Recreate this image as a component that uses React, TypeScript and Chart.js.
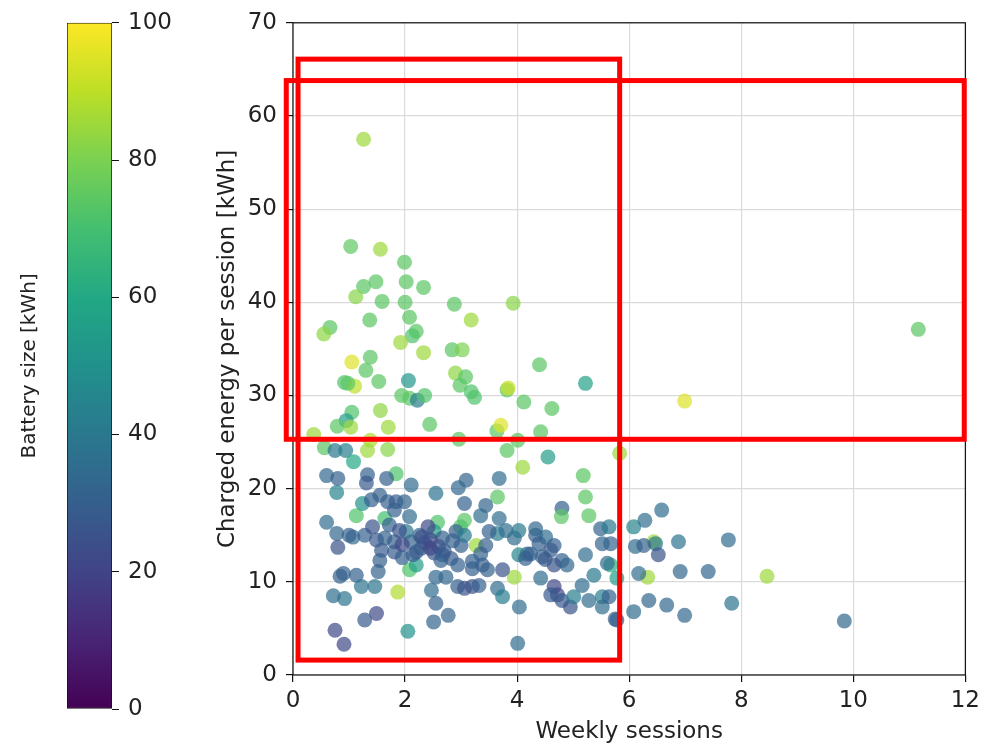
import React, { useEffect, useRef } from "react";
import { Chart, registerables } from "chart.js";
Chart.register(...registerables);

// ---- data ----
const sessionsPerWeek = [
  1.26, 1.03, 1.56, 1.99, 1.48, 1.26, 2.33, 2.02, 1.12, 1.59, 2.0, 2.88, 3.93, 1.37, 2.08, 3.18, 0.66, 0.55, 2.2, 2.13,
  1.92, 2.33, 2.84, 3.02, 1.05, 1.38, 1.3, 4.4, 2.06, 5.22, 1.53, 0.92, 1.1, 0.98, 2.9, 3.08, 2.98, 3.18, 3.24, 3.82,
  3.84, 1.94, 2.08, 2.22, 2.35, 4.12, 4.62, 1.05, 0.95, 0.79, 1.03, 1.56, 1.7, 2.44, 3.64, 3.71, 4.42, 0.37, 1.38, 2.96,
  4.01, 0.56, 0.75, 0.94, 1.33, 1.69, 3.82, 4.55, 5.83, 11.16, 6.99, 8.46, 6.33, 1.08, 4.1, 5.18, 5.22, 5.28, 4.8, 4.79,
  3.65, 3.06, 3.27, 1.84, 1.13, 1.64, 2.58, 2.52, 2.99, 2.08, 2.2, 1.87, 2.05, 1.24, 0.78, 3.95, 5.67, 5.78, 6.44, 6.08,
  6.47,
  0.6, 0.8, 1.33, 1.31, 1.67, 2.11, 2.55, 3.09, 3.68, 1.4, 1.55, 1.69, 1.84, 1.99, 1.81, 1.72, 2.08, 0.6, 0.78, 0.8,
  1.07, 1.28, 1.42, 1.49, 1.64, 1.81, 1.58, 1.81, 2.02, 2.11, 2.26, 2.41, 2.67, 2.91, 2.14, 2.29, 2.52, 2.67, 2.82, 3.06,
  3.44, 3.35, 3.68, 3.65, 3.95, 4.33, 4.51, 4.39, 4.66, 4.6, 4.18, 4.03, 4.8, 5.22, 5.49, 5.64, 5.52, 5.67, 3.44, 3.0,
  3.35, 3.06, 0.9, 1.13, 0.84, 1.22, 1.46, 0.72, 0.92, 1.52, 1.55, 1.49, 1.28, 0.75, 0.91, 2.47, 2.55, 2.51, 2.77, 2.55,
  2.73, 2.94, 2.64, 2.94, 3.38, 3.47, 3.74, 3.65, 3.74, 4.04, 4.01, 3.06, 3.2, 4.15, 4.45, 4.66, 4.89, 4.42, 4.66, 4.72,
  4.6, 4.8, 4.95, 5.01, 5.16, 5.28, 5.52, 5.52, 5.64, 5.37, 5.61, 5.75, 6.58, 6.28, 6.11, 6.26, 6.52, 6.88, 7.77, 6.17,
  6.91, 7.41, 6.35, 6.08, 6.67, 6.99, 7.83, 5.78, 9.84, 3.32, 3.2, 4.33, 4.24, 1.9, 1.95, 2.35, 2.45, 2.6, 2.2, 4.03,
  3.8, 2.95, 2.3, 2.45, 2.7, 1.95, 2.85, 3.5, 3.2, 4.5, 1.0,
];

const energyPerSession = [
  57.5, 46.0, 45.7, 44.3, 42.2, 41.7, 41.6, 42.2, 40.6, 40.1, 40.0, 39.8, 39.9, 38.1, 38.4, 38.1, 37.3, 36.6, 36.9, 36.4,
  35.7, 34.6, 34.9, 34.9, 33.6, 34.1, 32.7, 33.3, 31.6, 31.3, 31.5, 31.4, 31.0, 31.3, 32.4, 32.0, 31.1, 30.4, 29.8, 30.6,
  30.8, 30.0, 29.7, 29.5, 30.0, 29.3, 28.6, 28.2, 27.3, 26.7, 26.6, 28.4, 26.6, 26.9, 26.2, 26.8, 26.1, 25.8, 25.2, 25.3,
  25.2, 24.4, 24.1, 24.1, 24.1, 24.2, 24.1, 23.4, 23.8, 37.1, 29.4, 10.6, 10.5, 22.9, 22.3, 21.4, 19.1, 17.1, 17.9, 17.0,
  19.1, 16.6, 13.9, 21.6, 17.1, 16.8, 16.4, 15.4, 15.9, 11.3, 11.8, 8.9, 4.7, 18.4, 19.6, 10.5, 11.8, 10.4, 14.3, 15.9,
  14.1,
  21.4, 21.1, 21.5, 20.6, 21.1, 20.4, 19.5, 20.9, 21.1, 18.8, 19.3, 18.6, 18.6, 18.6, 17.7, 16.1, 17.0, 16.4, 15.2, 13.7,
  14.8, 15.0, 15.9, 14.5, 14.7, 14.3, 13.4, 13.2, 15.4, 14.3, 15.0, 15.9, 14.7, 15.4, 12.9, 13.6, 13.1, 12.9, 12.5, 18.4,
  18.2, 17.1, 16.8, 15.2, 14.7, 15.0, 14.8, 14.1, 13.9, 13.4, 13.0, 12.9, 12.3, 12.9, 15.7, 15.9, 14.1, 14.1, 13.9, 13.9,
  13.0, 15.0, 10.9, 10.7, 10.6, 9.5, 9.5, 8.5, 8.2, 11.1, 12.3, 6.6, 5.9, 4.8, 3.3, 9.1, 7.7, 5.7, 6.4, 10.5,
  10.5, 9.5, 12.3, 11.8, 11.8, 11.3, 11.3, 9.3, 8.4, 7.3, 3.4, 9.3, 9.5, 12.5, 12.7, 11.8, 11.8, 10.4, 9.5, 8.6,
  8.6, 8.0, 7.3, 8.4, 9.6, 8.0, 8.4, 7.3, 8.4, 10.7, 12.0, 6.0, 17.7, 16.6, 13.8, 13.9, 12.9, 14.3, 14.5, 10.9,
  11.1, 11.1, 8.0, 6.8, 7.5, 6.4, 7.7, 5.9, 5.8, 9.6, 11.4, 15.7, 13.0, 15.5, 14.0, 14.2, 14.5, 13.8, 13.2, 15.5,
  15.5, 20.1, 14.8, 13.6, 13.3, 12.6, 14.4, 15.4, 12.2, 12.4, 15.0,
];

const batterySizeKWh = [
  85, 75, 85, 74, 74, 74, 74, 74, 82, 74, 74, 74, 82, 74, 74, 85, 74, 83, 74, 72,
  85, 85, 74, 80, 95, 74, 74, 74, 52, 56, 74, 72, 90, 74, 83, 74, 74, 72, 72, 74,
  92, 74, 74, 42, 72, 74, 74, 72, 55, 74, 85, 83, 85, 74, 74, 95, 74, 85, 88, 74,
  74, 74, 40, 42, 85, 82, 74, 55, 85, 74, 95, 85, 85, 60, 85, 74, 74, 74, 30, 74,
  74, 74, 85, 72, 72, 70, 72, 55, 72, 72, 55, 88, 50, 50, 45, 85, 62, 55, 85, 45,
  40,
  33, 30, 30, 28, 30, 35, 38, 32, 35, 30, 30, 30, 28, 32, 30, 30, 35, 35, 33, 25,
  35, 30, 25, 28, 30, 30, 28, 28, 40, 32, 30, 22, 30, 30, 30, 30, 25, 30, 28, 30,
  32, 35, 35, 42, 35, 30, 35, 30, 30, 28, 35, 45, 30, 35, 32, 40, 32, 32, 30, 30,
  30, 40, 30, 30, 30, 38, 38, 35, 38, 32, 30, 22, 28, 22, 22, 35, 30, 32, 32, 33,
  33, 30, 30, 30, 30, 30, 25, 35, 42, 35, 35, 25, 25, 30, 30, 25, 33, 35, 22, 22,
  28, 28, 25, 42, 35, 35, 42, 35, 30, 40, 35, 30, 35, 35, 35, 30, 25, 38, 35, 35,
  33, 33, 33, 35, 33, 33, 38, 30, 33, 30, 30, 33, 30, 25, 22, 25, 20, 25, 28, 40,
  35, 33, 25, 22, 28, 30, 30, 30, 30, 28, 30,
];

const colorbarTicks = [0, 20, 40, 60, 80, 100];

// highlight regions in data units: [xMin, xMax, yMin, yMax]
const highlightRegions = [
  [0.09, 5.83, 1.6, 66.1],
  [-0.12, 11.98, 25.3, 63.8],
];

// ---- styling helpers ----
const VIRIDIS = [
  "#440154", "#482475", "#414487", "#355f8d", "#2a788e", "#21918c",
  "#22a884", "#44bf70", "#7ad151", "#bddf26", "#fde725",
];
function hexToRgb(h: string) {
  return [parseInt(h.slice(1, 3), 16), parseInt(h.slice(3, 5), 16), parseInt(h.slice(5, 7), 16)];
}
function viridis(t: number, a = 1) {
  const tt = Math.max(0, Math.min(1, t));
  const p = tt * 10;
  const i = Math.min(9, Math.floor(p));
  const f = p - i;
  const c0 = hexToRgb(VIRIDIS[i]);
  const c1 = hexToRgb(VIRIDIS[i + 1]);
  const c = c0.map((v, k) => Math.round(v + (c1[k] - v) * f));
  return `rgba(${c[0]},${c[1]},${c[2]},${a})`;
}

const FONT = { family: "'DejaVu Sans', sans-serif", size: 23 };
const CB_TITLE_FONT = { family: "'DejaVu Sans', sans-serif", size: 20 };
const TEXT = "#222";

const boxPlugin = {
  id: "boxAndRegions",
  afterDraw(chart: any) {
    const { ctx, chartArea, scales } = chart;
    ctx.save();
    ctx.strokeStyle = "#111";
    ctx.lineWidth = 1.2;
    ctx.strokeRect(chartArea.left, chartArea.top, chartArea.right - chartArea.left, chartArea.bottom - chartArea.top);
    ctx.strokeStyle = "#ff0000";
    ctx.lineWidth = 5;
    for (const [x0, x1, y0, y1] of highlightRegions) {
      const px0 = scales.x.getPixelForValue(x0);
      const px1 = scales.x.getPixelForValue(x1);
      const py0 = scales.y.getPixelForValue(y0);
      const py1 = scales.y.getPixelForValue(y1);
      ctx.strokeRect(px0, py1, px1 - px0, py0 - py1);
    }
    ctx.restore();
  },
};

export default function App() {
  const mainRef = useRef<HTMLCanvasElement>(null);
  const cbRef = useRef<HTMLCanvasElement>(null);

  useEffect(() => {
    const main = new Chart(mainRef.current as HTMLCanvasElement, {
      type: "scatter",
      data: {
        datasets: [
          {
            data: sessionsPerWeek.map((x, i) => ({ x, y: energyPerSession[i] })),
            backgroundColor: batterySizeKWh.map((b) => viridis(b / 100, 0.7)),
            pointRadius: 7.5,
            pointHoverRadius: 7.5,
            borderWidth: 0,
          },
        ],
      },
      options: {
        responsive: false,
        animation: false,
        events: [],
        layout: { padding: { left: 190, right: 17, top: 22, bottom: 0 } },
        plugins: { legend: { display: false }, tooltip: { enabled: false } },
        scales: {
          x: {
            type: "linear",
            min: 0,
            max: 12,
            ticks: { stepSize: 2, font: FONT, color: TEXT, padding: 5 },
            grid: { color: "#dadada", lineWidth: 1.2, tickColor: "#111", tickLength: 7 },
            border: { display: false },
            title: { display: true, text: "Weekly sessions", font: FONT, color: TEXT, padding: { top: 1, bottom: 0 } },
            afterFit: (s: any) => {
              s.height = 71;
            },
          },
          y: {
            type: "linear",
            min: 0,
            max: 70,
            ticks: { stepSize: 10, font: FONT, color: TEXT, padding: 9 },
            grid: { color: "#dadada", lineWidth: 1.2, tickColor: "#111", tickLength: 7 },
            border: { display: false },
            title: {
              display: true,
              text: "Charged energy per session [kWh]",
              font: FONT,
              color: TEXT,
              padding: { top: 24, bottom: 0 },
            },
            afterFit: (s: any) => {
              s.width = 103;
            },
          },
        },
      },
      plugins: [boxPlugin],
    } as any);

    const cb = new Chart(cbRef.current as HTMLCanvasElement, {
      type: "bar",
      data: {
        labels: [""],
        datasets: [
          {
            data: [[colorbarTicks[0], colorbarTicks[colorbarTicks.length - 1]]],
            backgroundColor: (ctx: any) => {
              const ca = ctx.chart.chartArea;
              if (!ca) return VIRIDIS[5];
              const g = ctx.chart.ctx.createLinearGradient(0, ca.bottom, 0, ca.top);
              VIRIDIS.forEach((c, i) => g.addColorStop(i / (VIRIDIS.length - 1), c));
              return g;
            },
            borderColor: "#111",
            borderWidth: 1,
            borderSkipped: false,
            barPercentage: 1,
            categoryPercentage: 1,
          },
        ],
      },
      options: {
        responsive: false,
        animation: false,
        events: [],
        layout: { padding: { left: 0, right: 0, top: 19, bottom: 37 } },
        plugins: { legend: { display: false }, tooltip: { enabled: false } },
        scales: {
          x: { display: false },
          y: {
            position: "right",
            min: 0,
            max: 100,
            ticks: { stepSize: 20, font: FONT, color: TEXT, padding: 9 },
            grid: { drawOnChartArea: false, tickColor: "#111", tickLength: 7 },
            border: { display: false },
            afterFit: (s: any) => {
              s.width = 88;
            },
          },
          yl: {
            position: "left",
            min: 0,
            max: 100,
            ticks: { display: false },
            grid: { display: false },
            border: { display: false },
            title: {
              display: true,
              text: "Battery size [kWh]",
              font: CB_TITLE_FONT,
              color: TEXT,
              padding: { top: 18, bottom: 0 },
            },
            afterFit: (s: any) => {
              s.width = 67;
            },
          },
        },
      },
    } as any);

    return () => {
      main.destroy();
      cb.destroy();
    };
  }, []);

  return (
    <div style={{ position: "absolute", left: 0, top: 0, width: 985, height: 746, background: "#fff" }}>
      <canvas ref={mainRef} width={985} height={746} style={{ position: "absolute", left: 0, top: 0 }} />
      <canvas ref={cbRef} width={200} height={746} style={{ position: "absolute", left: 0, top: 0 }} />
    </div>
  );
}
